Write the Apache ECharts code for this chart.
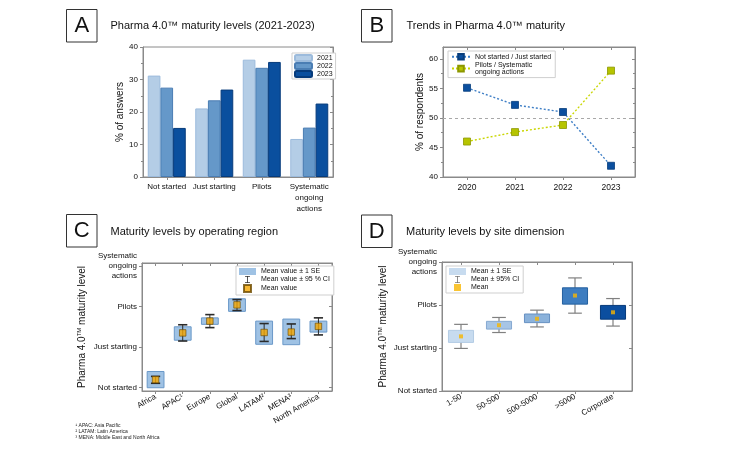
<!DOCTYPE html>
<html>
<head>
<meta charset="utf-8">
<script src="https://cdn.jsdelivr.net/npm/echarts@6/dist/echarts.min.js"></script>
<style>html,body{margin:0;padding:0;background:#fff}#c{width:750px;height:450px}</style>
</head>
<body>
<div id="c"></div>
<script>
// ---------- DATA ----------
const catA = ['Not started', 'Just starting', 'Pilots', 'Systematic\nongoing\nactions'];
const a2021 = [31.2, 21.1, 36.1, 11.7];
const a2022 = [27.5, 23.6, 33.6, 15.2];
const a2023 = [15.1, 26.9, 35.4, 22.6];

const yearsB = ['2020', '2021', '2022', '2023'];
const bNotStarted = [55.1, 52.2, 51.0, 41.9];
const bPilots = [46.0, 47.6, 48.8, 58.0];
const bTicks = [40, 45, 50, 55, 60];

const levelValues = [1, 2, 3, 4];
const levelLabels = ['Not started', 'Just starting', 'Pilots', 'Systematic\nongoing\nactions'];

const regionsC = ['Africa', 'APAC\u00b9', 'Europe', 'Global', 'LATAM\u00b2', 'MENA\u00b3', 'North America'];
const cMean   = [1.20, 2.35, 2.64, 3.04, 2.36, 2.37, 2.51];
const cSeLow  = [1.00, 2.17, 2.56, 2.88, 2.07, 2.06, 2.37];
const cSeHigh = [1.40, 2.50, 2.72, 3.19, 2.64, 2.69, 2.64];
const cCiLow  = [1.11, 2.15, 2.48, 2.90, 2.14, 2.21, 2.30];
const cCiHigh = [1.28, 2.55, 2.80, 3.17, 2.58, 2.57, 2.72];

const sitesD = ['1-50', '50-500', '500-5000', '>5000', 'Corporate'];
const dMean   = [2.27, 2.53, 2.68, 3.22, 2.83];
const dSeLow  = [2.13, 2.44, 2.59, 3.02, 2.67];
const dSeHigh = [2.41, 2.62, 2.79, 3.40, 2.99];
const dCiLow  = [1.99, 2.36, 2.49, 2.81, 2.51];
const dCiHigh = [2.55, 2.71, 2.88, 3.63, 3.15];

const footnotes = ['\u00b9 APAC: Asia Pacific', '\u00b2 LATAM: Latin America', '\u00b3 MENA: Middle East and North Africa'];

// ---------- STYLE ----------
const FONT = "'Liberation Sans', Arial, Helvetica, sans-serif";
const AX = '#8a8a8a';
const TXT = '#111';
const dFill = ['#c7dbef', '#a7c5e5', '#8bb2db', '#3e7dc0', '#0b4e9f'];
const dStroke = ['#b3cbe4', '#86a9d1', '#6690c2', '#24609f', '#073a7a'];

const chart = echarts.init(document.getElementById('c'), null, {renderer: 'canvas'});

function catX(grid, data, pos, showLabel, extra) {
  return Object.assign({
    type: 'category', gridIndex: grid, data: data, position: pos, boundaryGap: true,
    axisLine: {show: true, lineStyle: {color: AX, width: 1}},
    axisTick: {show: true, alignWithLabel: true, inside: pos === 'top', length: 3, lineStyle: {color: AX}},
    axisLabel: {show: showLabel, interval: 0, fontSize: 8, color: TXT, fontFamily: FONT, margin: 4, lineHeight: 11},
    splitLine: {show: false}
  }, extra || {});
}
function valY(grid, pos, showLabel, extra) {
  return Object.assign({
    type: 'value', gridIndex: grid, position: pos,
    axisLine: {show: true, lineStyle: {color: AX, width: 1}},
    axisTick: {show: true, inside: pos === 'right', length: 3, lineStyle: {color: AX}},
    axisLabel: {show: showLabel, fontSize: 8, color: TXT, fontFamily: FONT, margin: 5},
    splitLine: {show: false}
  }, extra || {});
}
function levelAxis(grid, pos, showLabel, min, max, name, gap) {
  const ax = valY(grid, pos, showLabel, {min: min, max: max});
  ax.axisTick.customValues = levelValues;
  ax.axisLabel.customValues = levelValues;
  ax.axisLabel.lineHeight = 10;
  ax.axisLabel.formatter = function (v) { const i = levelValues.indexOf(Math.round(v)); return i >= 0 ? levelLabels[i] : ''; };
  if (name) {
    ax.name = '{a|Pharma 4.0}{s|TM}{a| maturity level}';
    ax.nameLocation = 'middle';
    ax.nameGap = gap;
    ax.nameTextStyle = {fontFamily: FONT, color: TXT, rich: {a: {fontSize: 10, fontFamily: FONT, color: TXT, lineHeight: 12}, s: {fontSize: 6, fontFamily: FONT, color: TXT, verticalAlign: 'top', lineHeight: 12}}};
  }
  return ax;
}

function seRender(fillFn, strokeFn, frac) {
  return function (params, api) {
    const x = api.value(0), lo = api.value(1), hi = api.value(2);
    const p1 = api.coord([x, hi]), p2 = api.coord([x, lo]);
    const w = api.size([1, 0])[0] * frac;
    return {type: 'rect', shape: {x: p1[0] - w / 2, y: p1[1], width: w, height: p2[1] - p1[1]},
      style: {fill: fillFn(params.dataIndex), stroke: strokeFn(params.dataIndex), lineWidth: 1}};
  };
}
function ciRender(color, frac, lw, capLw) {
  return function (params, api) {
    const x = api.value(0), lo = api.value(1), hi = api.value(2);
    const p1 = api.coord([x, hi]), p2 = api.coord([x, lo]);
    const w = api.size([1, 0])[0] * frac;
    return {type: 'group', children: [
      {type: 'line', shape: {x1: p1[0], y1: p1[1], x2: p2[0], y2: p2[1]}, style: {stroke: color, lineWidth: lw}},
      {type: 'line', shape: {x1: p1[0] - w / 2, y1: p1[1], x2: p1[0] + w / 2, y2: p1[1]}, style: {stroke: color, lineWidth: capLw}},
      {type: 'line', shape: {x1: p2[0] - w / 2, y1: p2[1], x2: p2[0] + w / 2, y2: p2[1]}, style: {stroke: color, lineWidth: capLw}}
    ]};
  };
}
function triples(lo, hi) { return lo.map((v, i) => [i, v, hi[i]]); }

const IBEAM = 'path://M0,0h7v1.2h-2.9v7.6h2.9v1.2h-7v-1.2h2.9v-7.6h-2.9z';
const SQUARE = 'path://M0,0h10v10h-10z';

const legendBase = {
  orient: 'vertical', itemWidth: 17, itemHeight: 6, itemGap: 1,
  textStyle: {fontSize: 7, color: TXT, fontFamily: FONT},
  borderColor: '#cfcfcf', borderWidth: 1, backgroundColor: '#fff', padding: [2, 4, 2, 3],
  selectedMode: false
};

function letterBox(letter, x, y) {
  return [
    {type: 'rect', shape: {x: x, y: y, width: 30.5, height: 32.5}, style: {fill: '#fff', stroke: '#333', lineWidth: 1}},
    {type: 'text', x: x + 15.25, y: y + 16.5, style: {text: letter, fontSize: 22, fontFamily: FONT, fill: '#111', align: 'center', verticalAlign: 'middle'}}
  ];
}
function title(txt, x, y) {
  return {type: 'text', x: x, y: y, style: {text: txt, fontSize: 11, fontFamily: FONT, fill: '#111', align: 'left', verticalAlign: 'middle'}};
}

const graphics = [].concat(
  letterBox('A', 66.5, 9.5), letterBox('B', 361.5, 9.5), letterBox('C', 66.5, 214.5), letterBox('D', 361.5, 215),
  [title('Pharma 4.0\u2122 maturity levels (2021-2023)', 110.5, 26),
   title('Trends in Pharma 4.0\u2122 maturity', 406.5, 26),
   title('Maturity levels by operating region', 110.5, 231.5),
   title('Maturity levels by site dimension', 406, 231.5)],
  footnotes.map((t, i) => ({type: 'text', x: 75.5, y: 425.7 + i * 5.8, style: {text: t, fontSize: 5, fontFamily: FONT, fill: '#222', align: 'left', verticalAlign: 'middle'}}))
);

const bLeft = valY(1, 'left', true, {min: 40, max: 62, interval: 5, minorTick: {show: true, splitNumber: 2, length: 2, lineStyle: {color: AX}},
  name: '% of respondents', nameLocation: 'middle', nameGap: 18, nameTextStyle: {fontSize: 10, color: TXT, fontFamily: FONT}});
bLeft.axisLabel.customValues = bTicks;
bLeft.axisTick.customValues = bTicks;
const bRight = valY(1, 'right', false, {min: 40, max: 62, interval: 5, minorTick: {show: true, splitNumber: 2, length: 2, lineStyle: {color: AX}}});
bRight.axisTick.customValues = bTicks;

const option = {
  animation: false,
  backgroundColor: '#fff',
  textStyle: {fontFamily: FONT},
  graphic: graphics,
  grid: [
    {left: 143, top: 47, width: 190, height: 130, show: true, borderColor: AX, borderWidth: 1},
    {left: 443, top: 47, width: 192, height: 130, show: true, borderColor: AX, borderWidth: 1},
    {left: 142, top: 263, width: 190, height: 128, show: true, borderColor: AX, borderWidth: 1},
    {left: 442, top: 262, width: 190, height: 129, show: true, borderColor: AX, borderWidth: 1}
  ],
  xAxis: [
    catX(0, catA, 'bottom', true),
    catX(0, catA, 'top', false),
    catX(1, yearsB, 'bottom', true, {}),
    catX(1, yearsB, 'top', false),
    catX(2, regionsC, 'bottom', true),
    catX(2, regionsC, 'top', false),
    catX(3, sitesD, 'bottom', true),
    catX(3, sitesD, 'top', false)
  ],
  yAxis: [
    valY(0, 'left', true, {min: 0, max: 40, interval: 10, minorTick: {show: true, splitNumber: 2, length: 2, lineStyle: {color: AX}},
      name: '% of answers', nameLocation: 'middle', nameGap: 17, nameTextStyle: {fontSize: 10, color: TXT, fontFamily: FONT}}),
    valY(0, 'right', false, {min: 0, max: 40, interval: 10, minorTick: {show: true, splitNumber: 2, length: 2, lineStyle: {color: AX}}}),
    bLeft,
    bRight,
    levelAxis(2, 'left', true, 0.92, 4.07, true, 54),
    levelAxis(2, 'right', false, 0.92, 4.07, false),
    levelAxis(3, 'left', true, 1, 4, true, 53),
    levelAxis(3, 'right', false, 1, 4, false)
  ],
  legend: [
    Object.assign({}, legendBase, {left: 292, top: 53, itemGap: 0, padding: [1, 3, 1, 2], data: ['2021', '2022', '2023']}),
    Object.assign({}, legendBase, {left: 448, top: 51, itemWidth: 18, itemHeight: 7,
      data: ['Not started / Just started', 'Pilots / Systematic\nongoing actions']}),
    Object.assign({}, legendBase, {left: 236, top: 266, itemHeight: 7, data: [
      {name: 'Mean value \u00b1 1 SE', icon: 'rect'},
      {name: 'Mean value \u00b1 95 % CI', icon: IBEAM, itemStyle: {color: '#333'}},
      {name: 'Mean value', icon: SQUARE}]}),
    Object.assign({}, legendBase, {left: 446, top: 266, itemHeight: 7, data: [
      {name: 'Mean \u00b1 1 SE', icon: 'rect'},
      {name: 'Mean \u00b1 95% CI', icon: IBEAM, itemStyle: {color: '#777'}},
      {name: 'Mean', icon: 'path://M0,0h6v6h-6z'}]})
  ],
  series: [
    {name: '2021', type: 'bar', xAxisIndex: 0, yAxisIndex: 0, data: a2021, barGap: '0%', barCategoryGap: '20%',
      itemStyle: {color: '#b4cde6', borderColor: '#9cbbdc', borderWidth: 1}},
    {name: '2022', type: 'bar', xAxisIndex: 0, yAxisIndex: 0, data: a2022, barGap: '0%', barCategoryGap: '20%',
      itemStyle: {color: '#6598c9', borderColor: '#4a7db3', borderWidth: 1}},
    {name: '2023', type: 'bar', xAxisIndex: 0, yAxisIndex: 0, data: a2023, barGap: '0%', barCategoryGap: '20%',
      itemStyle: {color: '#0a4f9e', borderColor: '#063b7b', borderWidth: 1}},

    {name: 'Not started / Just started', type: 'line', xAxisIndex: 2, yAxisIndex: 2, data: bNotStarted,
      symbol: 'rect', symbolSize: 7, lineStyle: {color: '#3f7fc6', width: 1.4, type: [2, 2]},
      itemStyle: {color: '#0b4f9f', borderColor: '#083d7c', borderWidth: 0.8}, z: 3,
      markLine: {silent: true, symbol: 'none', label: {show: false}, lineStyle: {color: '#a8a8a8', type: [3, 3], width: 1},
        data: [{yAxis: 50}]}},
    {name: 'Pilots / Systematic\nongoing actions', type: 'line', xAxisIndex: 2, yAxisIndex: 2, data: bPilots,
      symbol: 'rect', symbolSize: 7, lineStyle: {color: '#c9d600', width: 1.4, type: [2, 2]},
      itemStyle: {color: '#b6c400', borderColor: '#8c9700', borderWidth: 0.8}, z: 3},

    {name: 'Mean value \u00b1 1 SE', type: 'custom', xAxisIndex: 4, yAxisIndex: 4, data: triples(cSeLow, cSeHigh), z: 2,
      itemStyle: {color: '#9fc2e4', borderColor: '#6a98c8'},
      renderItem: seRender(() => '#9fc2e4', () => '#6a98c8', 0.62)},
    {name: 'Mean value \u00b1 95 % CI', type: 'custom', xAxisIndex: 4, yAxisIndex: 4, data: triples(cCiLow, cCiHigh), z: 3,
      itemStyle: {color: '#333'},
      renderItem: ciRender('#2a2a2a', 0.34, 1, 1.6)},
    {name: 'Mean value', type: 'scatter', xAxisIndex: 4, yAxisIndex: 4, data: cMean, symbol: 'rect', symbolSize: 6.5, z: 5,
      itemStyle: {color: '#f5a600', borderColor: '#6b4a00', borderWidth: 0.8}},

    {name: 'Mean \u00b1 1 SE', type: 'custom', xAxisIndex: 6, yAxisIndex: 6, data: triples(dSeLow, dSeHigh), z: 2,
      itemStyle: {color: '#c7dbef'},
      renderItem: seRender(i => dFill[i], i => dStroke[i], 0.66)},
    {name: 'Mean \u00b1 95% CI', type: 'custom', xAxisIndex: 6, yAxisIndex: 6, data: triples(dCiLow, dCiHigh), z: 1,
      itemStyle: {color: '#777'},
      renderItem: ciRender('#808080', 0.36, 1.2, 1.2)},
    {name: 'Mean', type: 'scatter', xAxisIndex: 6, yAxisIndex: 6, data: dMean, symbol: 'rect', symbolSize: 4, z: 5,
      itemStyle: {color: '#f7b500'}}
  ]
};

// rotated labels for C and D
option.xAxis[4].axisLabel.rotate = 30;
option.xAxis[4].axisLabel.margin = 5;
option.xAxis[6].axisLabel.rotate = 30;
option.xAxis[6].axisLabel.margin = 5;
option.xAxis[2].axisLabel.fontSize = 8.5;
option.xAxis[2].axisLabel.margin = 5;

chart.setOption(option);
</script>
</body>
</html>
